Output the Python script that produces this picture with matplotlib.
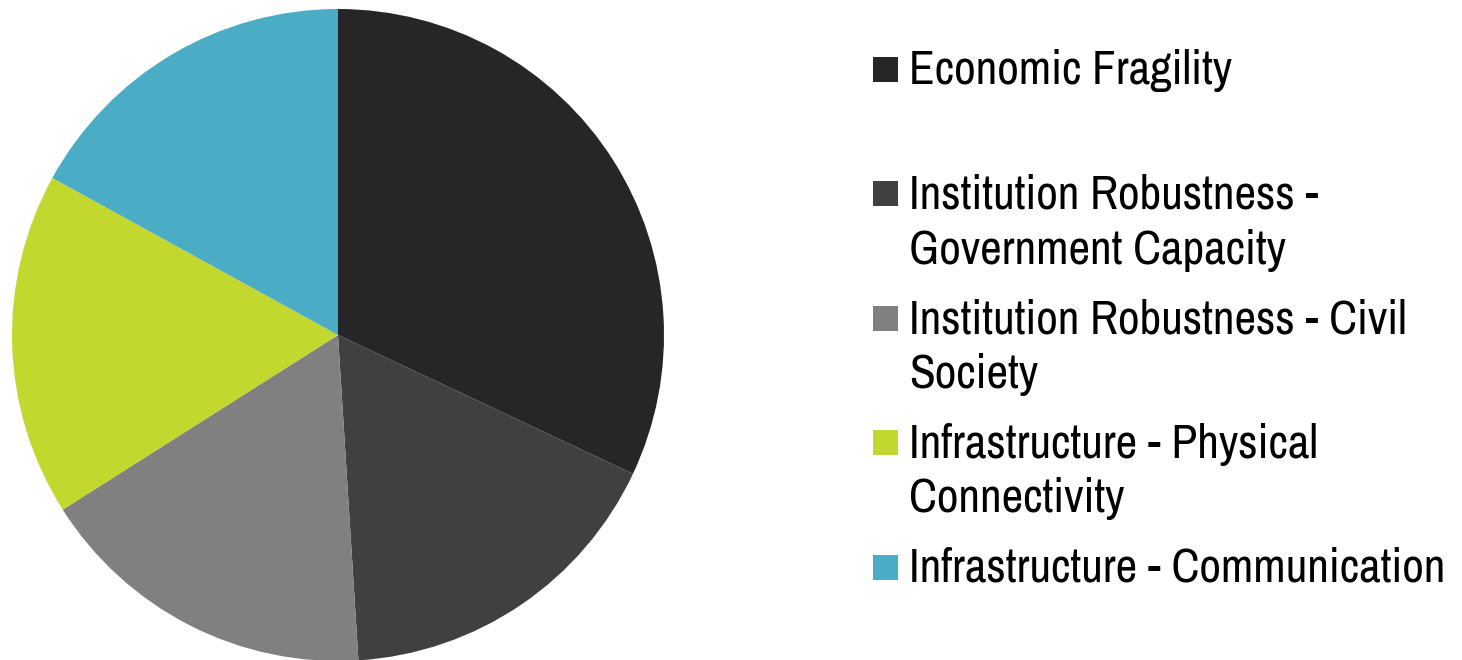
import matplotlib
matplotlib.use("Agg")
import matplotlib.pyplot as plt
from matplotlib import font_manager
from matplotlib.patches import Rectangle

labels = [
    "Economic Fragility",
    "Institution Robustness -\nGovernment Capacity",
    "Institution Robustness - Civil\nSociety",
    "Infrastructure - Physical\nConnectivity",
    "Infrastructure - Communication",
]
shares = [32, 17, 17, 17, 17]
colors = ["#262626", "#404040", "#808080", "#C3D82E", "#4BACC6"]

names = {f.name for f in font_manager.fontManager.ttflist}
family = next(n for n in ["Liberation Sans Narrow", "Archivo Narrow", "Liberation Sans"]
              if n in names)

W, H = 1462, 660
fig = plt.figure(figsize=(W / 100, H / 100), dpi=100)

# pie axes: centre (338, 335) px, radius 326 px
cx, cy, r = 338, 335, 326
ax = fig.add_axes([(cx - r) / W, (H - cy - r) / H, 2 * r / W, 2 * r / H])
wedges, _ = ax.pie(shares, colors=colors, startangle=90, counterclock=False,
                   radius=1.0, wedgeprops=dict(linewidth=0))
for w in wedges:
    w.set_clip_on(False)
ax.set_xlim(-1, 1)
ax.set_ylim(-1, 1)
ax.set_aspect("equal")
ax.axis("off")

# legend drawn as marker squares + text, one baseline per line (pixel units)
first_baseline = 84
entry_step = 124.5
line_gap = 55
box = 25
for i, (lab, col) in enumerate(zip(labels, colors)):
    base = first_baseline + i * entry_step
    mid = base - 15
    fig.patches.append(Rectangle((873 / W, (H - mid - box / 2) / H), box / W, box / H,
                                 transform=fig.transFigure, facecolor=col,
                                 edgecolor="none"))
    for j, line in enumerate(lab.split("\n")):
        fig.text(909 / W, (H - base - j * line_gap) / H, line,
                 family=[family, "DejaVu Sans"], fontsize=34,
                 va="baseline", ha="left", color="black")

fig.savefig("out.png", dpi=100)
